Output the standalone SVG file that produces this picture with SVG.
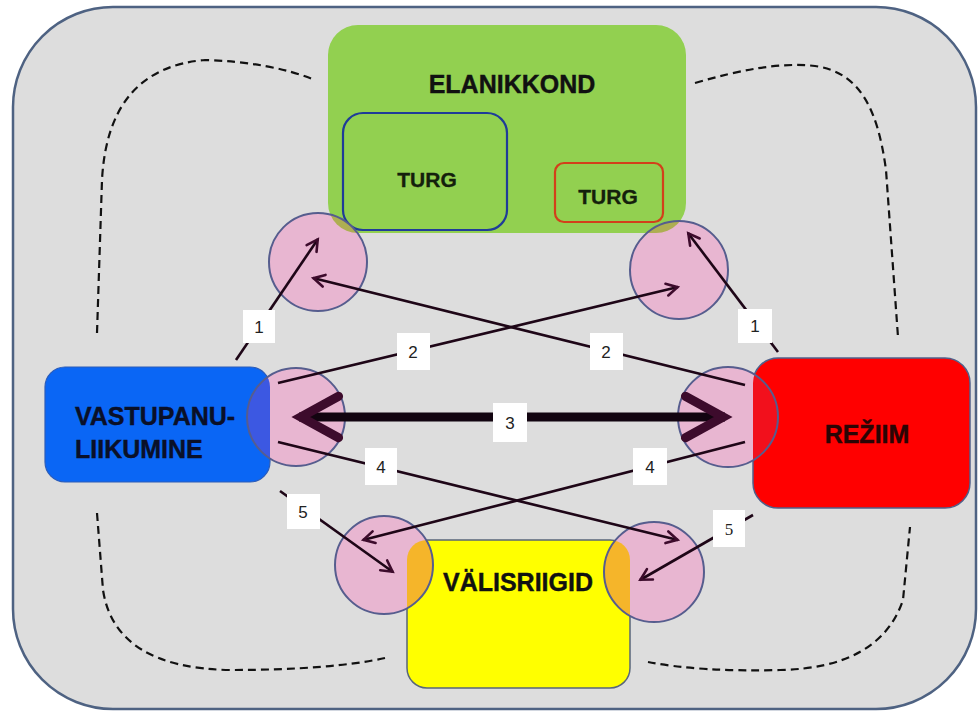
<svg xmlns="http://www.w3.org/2000/svg" width="979" height="713" viewBox="0 0 979 713">
<style>
.bg{fill:#dddddd;stroke:#4e6282;stroke-width:2.5}
.dash{fill:none;stroke:#111;stroke-width:2.2;stroke-dasharray:8 5}
.big{font-family:"Liberation Sans",Arial,sans-serif;font-weight:bold;font-size:25px;fill:#111;stroke:#111;stroke-width:0.4}
.turg{font-family:"Liberation Sans",Arial,sans-serif;font-weight:bold;font-size:21px;fill:#14200c;stroke:#14200c;stroke-width:0.3}
.pink{fill:#e8b6d1}
.edge{fill:none;stroke:#565d8e;stroke-width:2}
.conn{fill:none;stroke:#1e0617;stroke-width:2.6;marker-end:url(#arr)}
.thick{fill:none;stroke:#120410;stroke-width:9;marker-start:url(#arr);marker-end:url(#arr)}
.lbl rect{fill:#ffffff}
.lbl text{font-family:"Liberation Sans",Arial,sans-serif;font-size:17px;fill:#222;text-anchor:middle}
</style>
<defs>
<marker id="arr" markerUnits="strokeWidth" markerWidth="8" markerHeight="8" viewBox="-7 -4 8 8" refX="0" refY="0" orient="auto-start-reverse" overflow="visible">
<path d="M-4.4,-2.3 L-0.2,0 L-4.4,2.3" fill="none" stroke="#3d0b2c" stroke-width="1" stroke-linecap="round" stroke-linejoin="miter"/>
</marker>
<clipPath id="c-tl"><circle cx="318" cy="262" r="49"/></clipPath>
<clipPath id="c-tr"><circle cx="679" cy="270" r="49"/></clipPath>
<clipPath id="c-ml"><circle cx="296" cy="417" r="49"/></clipPath>
<clipPath id="c-mr"><circle cx="728" cy="417" r="50"/></clipPath>
<clipPath id="c-bl"><circle cx="384" cy="565" r="49"/></clipPath>
<clipPath id="c-br"><circle cx="654" cy="572" r="50"/></clipPath>
</defs>
<rect class="bg" x="13" y="7" width="963" height="702" rx="100" ry="100"/>
<g id="loops">
<path class="dash" d="M97,333 L102,180 Q108,68 205,60 Q270,62 315,80"/>
<path class="dash" d="M695,83 C740,70 780,62 815,66 C860,72 878,110 886,170 L898,337"/>
<path class="dash" d="M97,513 L103,590 Q115,668 230,670 Q330,670 385,658"/>
<path class="dash" d="M648,662 Q700,672 780,670 Q880,668 903,600 L910,527"/>
</g>
<g id="elanikkond">
<rect x="328" y="25" width="358" height="208" rx="30" fill="#92d050"/>
<text class="big" x="512" y="93" text-anchor="middle">ELANIKKOND</text>
</g>
<g id="turg1">
<rect x="343" y="113" width="164" height="117" rx="20" fill="none" stroke="#1f3c98" stroke-width="2.2"/>
<text class="turg" x="427" y="187" text-anchor="middle">TURG</text>
</g>
<g id="turg2">
<rect x="555" y="163" width="108" height="59" rx="9" fill="none" stroke="#d2401a" stroke-width="2.2"/>
<text class="turg" x="608" y="204" text-anchor="middle">TURG</text>
</g>
<g id="vastupanu">
<rect x="45" y="367" width="225" height="115" rx="20" fill="#0a66f5" stroke="#2c5cb8" stroke-width="1.2"/>
<text class="big" x="75" y="425" style="fill:#0a1028;stroke:#0a1028">VASTUPANU-</text>
<text class="big" x="75" y="458" style="fill:#0a1028;stroke:#0a1028">LIIKUMINE</text>
</g>
<g id="reziim">
<rect x="753" y="358" width="217" height="150" rx="25" fill="#ff0000" stroke="#50608a" stroke-width="1.5"/>
<text class="big" x="867" y="443" text-anchor="middle" style="fill:#2a0505;stroke:#2a0505">REŽIIM</text>
</g>
<g id="valisriigid">
<rect x="407" y="540" width="223" height="148" rx="20" fill="#ffff00" stroke="#58667a" stroke-width="1.5"/>
<text class="big" x="518" y="591" text-anchor="middle">VÄLISRIIGID</text>
</g>
<g id="ring-tl">
<circle class="pink" cx="318" cy="262" r="49"/>
<rect x="328" y="25" width="358" height="208" rx="30" fill="#aeae52" clip-path="url(#c-tl)"/>
<circle class="edge" cx="318" cy="262" r="49"/>
</g>
<g id="ring-tr">
<circle class="pink" cx="679" cy="270" r="49"/>
<rect x="328" y="25" width="358" height="208" rx="30" fill="#aeae52" clip-path="url(#c-tr)"/>
<circle class="edge" cx="679" cy="270" r="49"/>
</g>
<g id="ring-ml">
<circle class="pink" cx="296" cy="417" r="49"/>
<rect x="45" y="367" width="225" height="115" rx="20" fill="#3c58e2" clip-path="url(#c-ml)"/>
<circle class="edge" cx="296" cy="417" r="49"/>
</g>
<g id="ring-mr">
<circle class="pink" cx="728" cy="417" r="50"/>
<rect x="753" y="358" width="217" height="150" rx="25" fill="#f2101c" clip-path="url(#c-mr)"/>
<circle class="edge" cx="728" cy="417" r="50"/>
</g>
<g id="ring-bl">
<circle class="pink" cx="384" cy="565" r="49"/>
<rect x="407" y="540" width="223" height="148" rx="20" fill="#f5b52a" clip-path="url(#c-bl)"/>
<circle class="edge" cx="384" cy="565" r="49"/>
</g>
<g id="ring-br">
<circle class="pink" cx="654" cy="572" r="50"/>
<rect x="407" y="540" width="223" height="148" rx="20" fill="#f5b52a" clip-path="url(#c-br)"/>
<circle class="edge" cx="654" cy="572" r="50"/>
</g>
<g id="connectors">
<line class="conn" x1="236" y1="360" x2="318" y2="239"/>
<line class="conn" x1="778" y1="352" x2="688" y2="233"/>
<line class="conn" x1="278" y1="383" x2="678" y2="287"/>
<line class="conn" x1="745" y1="385" x2="313" y2="278"/>
<line class="thick" x1="299" y1="417" x2="725" y2="417"/>
<line class="conn" x1="278" y1="442" x2="678" y2="540"/>
<line class="conn" x1="745" y1="442" x2="363" y2="540"/>
<line class="conn" x1="280" y1="491" x2="393" y2="572"/>
<line class="conn" x1="753" y1="515" x2="640" y2="580"/>
</g>
<g id="labels" class="lbl">
<rect x="243" y="310" width="32" height="33"/><text x="259" y="333">1</text>
<rect x="738" y="309" width="34" height="34"/><text x="755" y="332">1</text>
<rect x="397" y="333" width="33" height="37"/><text x="413" y="358">2</text>
<rect x="590" y="333" width="33" height="37"/><text x="606" y="358">2</text>
<rect x="493" y="403" width="34" height="39"/><text x="510" y="429">3</text>
<rect x="365" y="448" width="32" height="37"/><text x="381" y="473">4</text>
<rect x="633" y="448" width="34" height="37"/><text x="650" y="473">4</text>
<rect x="287" y="494" width="33" height="35"/><text x="303" y="518">5</text>
<rect x="713" y="510" width="32" height="37"/><text x="729" y="535" style="font-family:'Liberation Serif',serif">5</text>
</g>
</svg>
